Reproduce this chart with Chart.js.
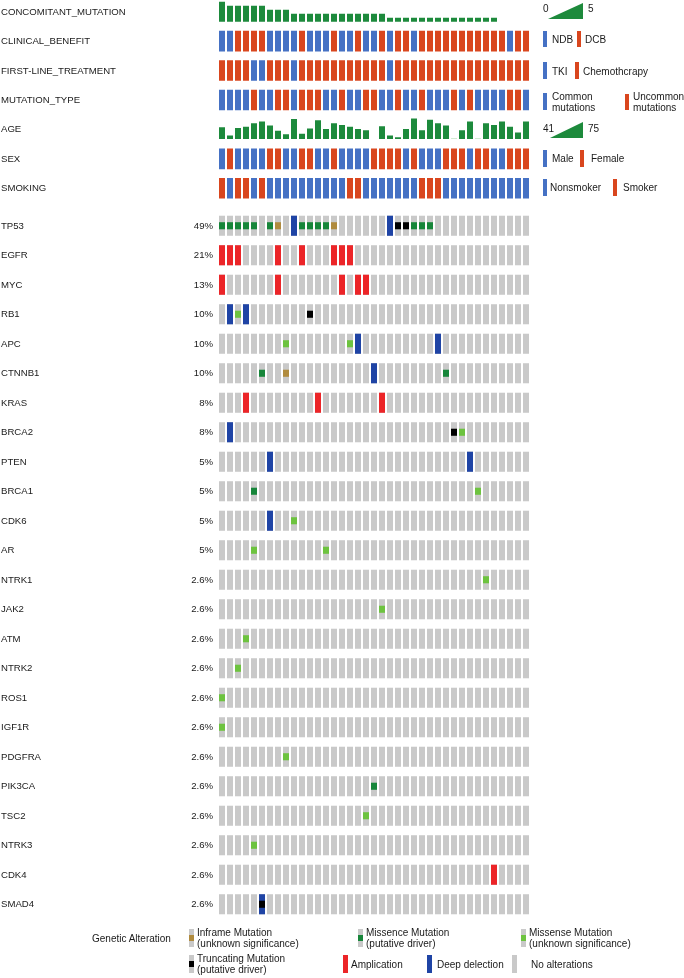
<!DOCTYPE html>
<html>
<head>
<meta charset="utf-8">
<title>Oncoprint</title>
<script src="https://cdn.jsdelivr.net/npm/chart.js@4.4.1/dist/chart.umd.min.js"></script>
<style>
  html, body { margin: 0; padding: 0; background: #fff; overflow: hidden; }
  #page { position: relative; width: 684px; height: 978px; font-family: 'Liberation Sans', Arial, Helvetica, sans-serif; color: #1a1a1a; }
  canvas { position: absolute; left: 0; }
  .t { position: absolute; white-space: nowrap; font-size: 9.6px; line-height: 12px; height: 12px; }
  .pct { text-align: right; width: 213px; left: 0; }
  .lg { position: absolute; white-space: nowrap; font-size: 10px; line-height: 11px; }
  .sw { position: absolute; }
</style>
</head>
<body>
<div id="page">
  <canvas id="annChart" width="684" height="206" style="top:-3px"></canvas>
  <canvas id="geneChart" width="684" height="708" style="top:211px"></canvas>
</div>
<script>
// samples (columns) of the oncoprint
const samples = Array.from({length: 39}, (_, i) => 'P' + (i + 1));

// clinical tracks
const trackNames = ['CONCOMITANT_MUTATION', 'CLINICAL_BENEFIT', 'FIRST-LINE_TREATMENT', 'MUTATION_TYPE', 'AGE', 'SEX', 'SMOKING'];
const concomitant = [5,4,4,4,4,4,3,3,3,2,2,2,2,2,2,2,2,2,2,2,2,1,1,1,1,1,1,1,1,1,1,1,1,1,1,0,0,0,0];
const clinicalBenefit = ['NDB','NDB','DCB','DCB','DCB','DCB','NDB','NDB','NDB','NDB','DCB','NDB','NDB','NDB','DCB','NDB','NDB','DCB','NDB','NDB',
  'DCB','NDB','DCB','DCB','NDB','DCB','DCB','DCB','DCB','DCB','DCB','DCB','DCB','DCB','DCB','DCB','NDB','DCB','DCB'];
const firstLine = ['Chemo','Chemo','Chemo','Chemo','TKI','TKI','Chemo','Chemo','Chemo','TKI','Chemo','Chemo','Chemo','Chemo','Chemo','Chemo','Chemo','Chemo','Chemo','Chemo',
  'Chemo','TKI','Chemo','Chemo','Chemo','Chemo','Chemo','Chemo','Chemo','Chemo','Chemo','Chemo','Chemo','Chemo','Chemo','Chemo','Chemo','Chemo','Chemo'];
const mutationType = ['C','C','C','C','U','C','C','U','U','C','U','U','U','C','C','U','C','C','U','U',
  'C','C','U','C','C','U','C','C','C','U','C','U','C','C','C','C','U','U','C'];
const age = [60,46,59,61,67,70,63,54,48,74,49,58,72,57,67,64,61,57,55,null,
  62,46,43,57,75,55,73,67,63,41,55,70,41,67,64,70,61,51,70];
const sex = ['M','F','M','M','M','M','F','F','M','M','F','F','M','M','F','M','M','M','M','F',
  'F','F','F','M','F','M','M','M','F','F','F','M','F','F','M','M','F','F','F'];
const smoking = ['S','N','S','S','N','S','N','N','N','N','N','N','N','N','N','N','S','S','N','N',
  'N','N','N','N','N','S','S','S','N','N','N','N','N','N','N','N','N','N','N'];

// genes and their altered fraction
const genes = ['TP53','EGFR','MYC','RB1','APC','CTNNB1','KRAS','BRCA2','PTEN','BRCA1','CDK6','AR',
  'NTRK1','JAK2','ATM','NTRK2','ROS1','IGF1R','PDGFRA','PIK3CA','TSC2','NTRK3','CDK4','SMAD4'];
const genePct = ['49%','21%','13%','10%','10%','10%','8%','8%','5%','5%','5%','5%',
  '2.6%','2.6%','2.6%','2.6%','2.6%','2.6%','2.6%','2.6%','2.6%','2.6%','2.6%','2.6%'];

// alterations: gene -> sample indexes
const amplification = { EGFR: [0,1,2,7,10,14,15,16], MYC: [0,7,15,17,18], KRAS: [3,12,20], CDK4: [34] };
const deepDeletion = { TP53: [9,21], RB1: [1,3], APC: [17,27], CTNNB1: [19], BRCA2: [1], PTEN: [6,31], CDK6: [6], SMAD4: [5] };
const missenseDriver = { TP53: [0,1,2,3,4,6,10,11,12,13,24,25,26], CTNNB1: [5,28], BRCA1: [4], PIK3CA: [19] };
const missenseUnknown = { RB1: [2], APC: [8,16], BRCA2: [30], BRCA1: [32], CDK6: [9], AR: [4,13], NTRK1: [33], JAK2: [20],
  ATM: [3], NTRK2: [2], ROS1: [0], IGF1R: [0], PDGFRA: [8], TSC2: [18], NTRK3: [4] };
const inframe = { TP53: [7,14], CTNNB1: [8] };
const truncating = { TP53: [22,23], RB1: [11], BRCA2: [29], SMAD4: [5] };

const BLUE = '#4571C4', ORANGE = '#D9461E', GREEN = '#1D8A3C', PALEGREEN = '#A3D8A6';
const GREY = '#C9C9C9', AMP = '#EC2528', DEL = '#1F44A5', MIS_DRV = '#17863A', MIS_UNK = '#6DC33F', INF = '#B08B3E', TRUNC = '#000000';

const barOpts = { barPercentage: 0.75, categoryPercentage: 1, grouped: false, borderWidth: 0 };
const baseOptions = scales => ({
  responsive: false,
  animation: false,
  events: [],
  layout: { padding: { left: 218, right: 154, top: 0, bottom: 0 } },
  plugins: { legend: { display: false }, tooltip: { enabled: false } },
  scales: scales
});

// ---------- clinical tracks chart (stacked hidden y axes) ----------
const band = [0.15, 0.85];
const catColors = (vals, blueVal) => vals.map(v => v === blueVal ? BLUE : ORANGE);
const annDatasets = [
  Object.assign({ yAxisID: 'y0', data: concomitant, base: 0, backgroundColor: GREEN }, barOpts),
  Object.assign({ yAxisID: 'y1', data: samples.map(() => band), backgroundColor: catColors(clinicalBenefit, 'NDB') }, barOpts),
  Object.assign({ yAxisID: 'y2', data: samples.map(() => band), backgroundColor: catColors(firstLine, 'TKI') }, barOpts),
  Object.assign({ yAxisID: 'y3', data: samples.map(() => band), backgroundColor: catColors(mutationType, 'C') }, barOpts),
  Object.assign({ yAxisID: 'y4', data: age, base: 40, backgroundColor: age.map(v => v !== null && v <= 41 ? PALEGREEN : GREEN) }, barOpts),
  Object.assign({ yAxisID: 'y5', data: samples.map(() => band), backgroundColor: catColors(sex, 'M') }, barOpts),
  Object.assign({ yAxisID: 'y6', data: samples.map(() => band), backgroundColor: catColors(smoking, 'N') }, barOpts)
];
const annRanges = [[-1.18, 6.18], [0, 1], [0, 1], [0, 1], [31.3, 81.5], [0, 1], [0, 1]];
const annScales = { x: { type: 'category', display: false, offset: true } };
annRanges.forEach((r, k) => {
  annScales['y' + k] = { type: 'linear', display: false, position: 'right', stack: 'tracks', stackWeight: 1, weight: k, min: r[0], max: r[1] };
});
new Chart(document.getElementById('annChart'), {
  type: 'bar',
  data: { labels: samples, datasets: annDatasets },
  options: baseOptions(annScales)
});

// ---------- gene alteration chart ----------
const FULL = 0.34, SMALL = 0.12;
const rowOf = g => genes.indexOf(g);
const cells = (map, h) => Object.entries(map).flatMap(([g, idx]) =>
  idx.map(s => ({ x: samples[s], y: [rowOf(g) - h, rowOf(g) + h] })));
const greyCells = genes.flatMap(g => samples.map(s => ({ x: s, y: [rowOf(g) - FULL, rowOf(g) + FULL] })));

new Chart(document.getElementById('geneChart'), {
  type: 'bar',
  data: {
    labels: samples,
    datasets: [
      Object.assign({ label: 'No alterations', data: greyCells, backgroundColor: GREY, order: 3 }, barOpts),
      Object.assign({ label: 'Amplication', data: cells(amplification, FULL), backgroundColor: AMP, order: 2 }, barOpts),
      Object.assign({ label: 'Deep delection', data: cells(deepDeletion, FULL), backgroundColor: DEL, order: 2 }, barOpts),
      Object.assign({ label: 'Missence Mutation (putative driver)', data: cells(missenseDriver, SMALL), backgroundColor: MIS_DRV, order: 1 }, barOpts),
      Object.assign({ label: 'Missense Mutation (unknown significance)', data: cells(missenseUnknown, SMALL), backgroundColor: MIS_UNK, order: 1 }, barOpts),
      Object.assign({ label: 'Inframe Mutation (unknown significance)', data: cells(inframe, SMALL), backgroundColor: INF, order: 1 }, barOpts),
      Object.assign({ label: 'Truncating Mutation (putative driver)', data: cells(truncating, SMALL), backgroundColor: TRUNC, order: 0 }, barOpts)
    ]
  },
  options: baseOptions({
    x: { type: 'category', display: false, offset: true },
    y: { type: 'linear', display: false, min: -0.5, max: genes.length - 0.5, reverse: true }
  })
});

// ---------- text labels and legends ----------
const page = document.getElementById('page');
function el(tag, cls, css, html) {
  const d = document.createElement(tag);
  if (cls) d.className = cls;
  d.style.cssText = css;
  if (html !== undefined) d.innerHTML = html;
  page.appendChild(d);
  return d;
}
const trackH = 206 / 7;
trackNames.forEach((n, k) => el('div', 't', 'left:1px;top:' + (-3 + trackH * (k + 0.5) - 6) + 'px', n));
genes.forEach((g, k) => {
  const cy = 211 + 29.5 * (k + 0.5) - 6;
  el('div', 't', 'left:1px;top:' + cy + 'px', g);
  el('div', 't pct', 'top:' + cy + 'px', genePct[k]);
});

function sw(left, top, w, h, color) {
  el('div', 'sw', 'left:' + left + 'px;top:' + top + 'px;width:' + w + 'px;height:' + h + 'px;background:' + color);
}
function txt(left, cy, s, lines) {
  const n = lines || 1;
  el('div', 'lg', 'left:' + left + 'px;top:' + (cy - n * 5.5) + 'px', s);
}
function tri(left, top, w, h) {
  const ns = 'http://www.w3.org/2000/svg';
  const svg = document.createElementNS(ns, 'svg');
  svg.setAttribute('width', w); svg.setAttribute('height', h);
  svg.style.cssText = 'position:absolute;left:' + left + 'px;top:' + top + 'px';
  const p = document.createElementNS(ns, 'polygon');
  p.setAttribute('points', '0,' + h + ' ' + w + ',0 ' + w + ',' + h);
  p.setAttribute('fill', GREEN);
  svg.appendChild(p);
  page.appendChild(svg);
}

// right-hand track legends
txt(543, 8, '0'); tri(548, 3, 35, 16); txt(588, 8, '5');
sw(543, 31, 4, 16, BLUE); txt(552, 39, 'NDB'); sw(577, 31, 4, 16, ORANGE); txt(585, 39, 'DCB');
sw(543, 62, 4, 17, BLUE); txt(552, 71, 'TKI'); sw(575, 62, 4, 17, ORANGE); txt(583, 71, 'Chemothcrapy');
sw(543, 93, 4, 17, BLUE); txt(552, 102, 'Common<br>mutations', 2); sw(625, 94, 4, 16, ORANGE); txt(633, 102, 'Uncommon<br>mutations', 2);
txt(543, 128, '41'); tri(550, 122, 33, 16); txt(588, 128, '75');
sw(543, 150, 4, 17, BLUE); txt(552, 158, 'Male'); sw(580, 150, 4, 17, ORANGE); txt(591, 158, 'Female');
sw(543, 179, 4, 17, BLUE); txt(550, 187, 'Nonsmoker'); sw(613, 179, 4, 17, ORANGE); txt(623, 187, 'Smoker');

// genetic alteration legend
function icon(left, top, inner) {
  sw(left, top, 5, 18, GREY);
  if (inner) sw(left, top + 6, 5, 6, inner);
}
txt(92, 938, 'Genetic Alteration');
icon(189, 929, INF); txt(197, 938, 'Inframe Mutation<br>(unknown significance)', 2);
icon(358, 929, MIS_DRV); txt(366, 938, 'Missence Mutation<br>(putative driver)', 2);
icon(521, 929, MIS_UNK); txt(529, 938, 'Missense Mutation<br>(unknown significance)', 2);
icon(189, 955, TRUNC); txt(197, 964, 'Truncating Mutation<br>(putative driver)', 2);
sw(343, 955, 5, 18, AMP); txt(351, 964, 'Amplication');
sw(427, 955, 5, 18, DEL); txt(437, 964, 'Deep delection');
sw(512, 955, 5, 18, GREY); txt(531, 964, 'No alterations');
</script>
</body>
</html>
